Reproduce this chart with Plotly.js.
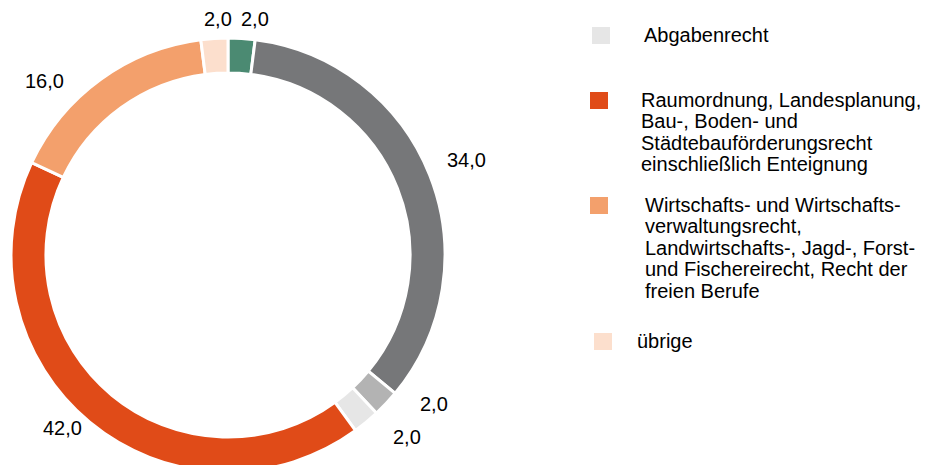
<!DOCTYPE html>
<html><head><meta charset="utf-8">
<script src="https://cdn.plot.ly/plotly-3.0.1.min.js"></script>
<style>
html,body{margin:0;padding:0;overflow:hidden;background:#fff;width:926px;height:465px}
#wrap{position:relative;width:926px;height:465px;overflow:hidden}
#chart{position:absolute;left:0;top:-120px;width:926px;height:640px}
</style>
</head><body><div id="wrap"><div id="chart"></div></div>
<script>
// ---- data ----
const categories = [
  "Staats- und Verfassungsrecht",
  "Ausländer- und Asylrecht",
  "Sozialhilfe- und Wohngeldrecht",
  "Abgabenrecht",
  "Raumordnung, Landesplanung, Bau-, Boden- und Städtebauförderungsrecht einschließlich Enteignung",
  "Wirtschafts- und Wirtschaftsverwaltungsrecht, Landwirtschafts-, Jagd-, Forst- und Fischereirecht, Recht der freien Berufe",
  "übrige"
];
const values = [2.0, 34.0, 2.0, 2.0, 42.0, 16.0, 2.0];
const colors = ["#4b8a72", "#767779", "#b3b3b3", "#e6e6e6", "#e04b18", "#f3a06c", "#fcdfcd"];
// legend entries as drawn (lines), index into categories
const legendIdx = [2, 3, 4, 5, 6];
const legendLines = [
  ["Sozialhilfe- und Kriegsopferrecht,", "Wohngeldrecht, Sport"],
  ["Abgabenrecht"],
  ["Raumordnung, Landesplanung,", "Bau-, Boden- und", "Städtebauförderungsrecht", "einschließlich Enteignung"],
  ["Wirtschafts- und Wirtschafts-", "verwaltungsrecht,", "Landwirtschafts-, Jagd-, Forst-", "und Fischereirecht, Recht der", "freien Berufe"],
  ["übrige"]
];

// ---- layout helpers (pixel -> paper, visible window coords) ----
const W = 926, H = 640, OFF = 120;
const px = x => x / W;
const py = y => 1 - (y + OFF) / H;

// pie geometry
const cx = 228, cy = 255, R = 217;
const FONT = "Liberation Sans, Arial, sans-serif";

const pie = {
  type: 'pie',
  labels: categories,
  values: values,
  sort: false,
  direction: 'clockwise',
  rotation: 0,
  hole: 0.839,
  marker: {colors: colors, line: {color: '#ffffff', width: 3}},
  textinfo: 'none',
  domain: {x: [px(cx - R), px(cx + R)], y: [py(cy + R), py(cy - R)]},
  showlegend: false,
  hoverinfo: 'none'
};

const shapes = [], annotations = [];

// value labels outside the ring, placed at each slice's mid angle,
// with small manual nudges (the original labels were hand-placed)
const labelNudge = [[12, 0], [7, -8], [28, -13], [23, 0], [-7, -9], [-37, 17], [5, 0]];
const total = values.reduce((a, b) => a + b, 0);
let cum = 0;
values.forEach((v, i) => {
  const mid = (cum + v / 2) / total * 2 * Math.PI;
  cum += v;
  const s = Math.sin(mid), c = Math.cos(mid);
  const txt = v.toFixed(1).replace('.', ',');
  const halfW = txt.length * 4.9, halfH = 7;
  const rr = R + 12.5;
  const x = cx + rr * s + halfW * s + labelNudge[i][0];
  const y = cy - rr * c - halfH * c + labelNudge[i][1];
  annotations.push({xref: 'paper', yref: 'paper', x: px(x), y: py(y),
    xanchor: 'center', yanchor: 'middle', showarrow: false, text: txt,
    font: {family: FONT, size: 20, color: '#000000'}});
});

// legend (custom, drawn as shapes + text)
const firstBaselines = [-25.5, 42, 107, 212, 348];
const swatchX = [592, 592, 590, 590, 594];
const textX = [643, 642, 639, 643, 635];
const lineH = 21.4;
legendIdx.forEach((ci, k) => {
  const b = firstBaselines[k];
  shapes.push({type: 'rect', xref: 'paper', yref: 'paper',
    x0: px(swatchX[k]), x1: px(swatchX[k] + 18), y0: py(b - 15), y1: py(b + 2),
    fillcolor: colors[ci], line: {width: 0}});
  legendLines[k].forEach((t, j) => {
    annotations.push({xref: 'paper', yref: 'paper', x: px(textX[k]), y: py(b + j * lineH - 7),
      xanchor: 'left', yanchor: 'middle', showarrow: false, text: t,
      font: {family: FONT, size: 20, color: '#000000'}});
  });
});

const layout = {
  width: W, height: H,
  margin: {l: 0, r: 0, t: 0, b: 0, autoexpand: false},
  paper_bgcolor: '#ffffff', plot_bgcolor: '#ffffff',
  separators: ',.',
  shapes: shapes, annotations: annotations,
  showlegend: false
};
Plotly.newPlot('chart', [pie], layout, {staticPlot: true, displayModeBar: false});
</script>
</body></html>
